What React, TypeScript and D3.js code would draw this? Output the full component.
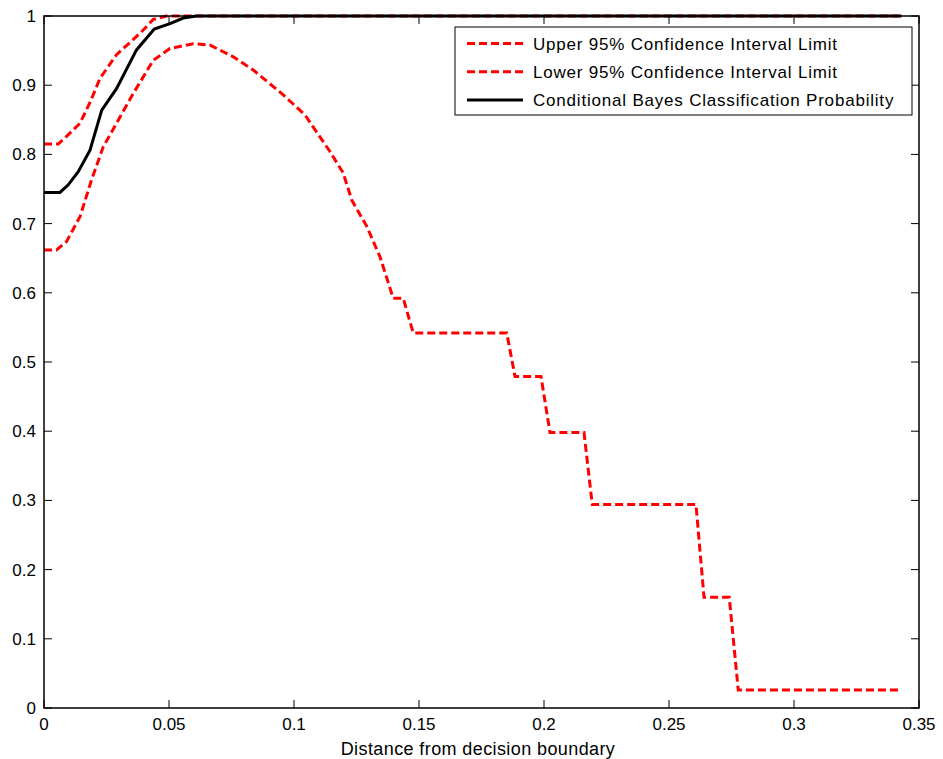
import React, { useRef, useEffect } from "react";
import * as d3 from "d3";

// values
const upper: [number, number][] = [
  [0, 0.815], [0.0057, 0.815], [0.009, 0.826], [0.0144, 0.845], [0.0184, 0.875],
  [0.0224, 0.91], [0.029, 0.944], [0.0384, 0.975], [0.0437, 0.995], [0.049, 1], [0.343, 1],
];

const bayes: [number, number][] = [
  [0, 0.745], [0.0064, 0.745], [0.0097, 0.756], [0.0137, 0.775], [0.0184, 0.806],
  [0.0231, 0.864], [0.029, 0.895], [0.037, 0.951], [0.0441, 0.981], [0.0504, 0.989],
  [0.0557, 0.997], [0.061, 1], [0.343, 1],
];

const lower: [number, number][] = [
  [0, 0.662], [0.005, 0.662], [0.009, 0.674], [0.0144, 0.71], [0.019, 0.763],
  [0.0237, 0.811], [0.029, 0.845], [0.0357, 0.888], [0.0437, 0.936], [0.0504, 0.953],
  [0.0597, 0.96], [0.0664, 0.958], [0.0757, 0.941], [0.0837, 0.922], [0.0957, 0.886],
  [0.1044, 0.857], [0.1144, 0.804], [0.1197, 0.773], [0.1231, 0.734], [0.1291, 0.696],
  [0.1344, 0.652], [0.1397, 0.592], [0.1437, 0.592], [0.1477, 0.542], [0.1851, 0.542],
  [0.1884, 0.479], [0.1988, 0.479], [0.2024, 0.398], [0.216, 0.398], [0.2193, 0.294],
  [0.2608, 0.294], [0.264, 0.16], [0.2741, 0.16], [0.2777, 0.026], [0.343, 0.026],
];

const xTicks = [0, 0.05, 0.1, 0.15, 0.2, 0.25, 0.3, 0.35];
const yTicks = [0, 0.1, 0.2, 0.3, 0.4, 0.5, 0.6, 0.7, 0.8, 0.9, 1];

const legendItems = [
  { label: "Upper 95% Confidence Interval Limit", color: "#ff0000", dash: "8,4" },
  { label: "Lower 95% Confidence Interval Limit", color: "#ff0000", dash: "8,4" },
  { label: "Conditional Bayes Classification Probability", color: "#000000", dash: null },
];

const App = () => {
  const svgRef = useRef<SVGSVGElement>(null);

  useEffect(() => {
    const svg = d3.select(svgRef.current);
    svg.selectAll("*").remove();

    const width = 943;
    const height = 759;
    const margin = { top: 16, right: 24, bottom: 51, left: 44 };
    const font = "Arial, 'Liberation Sans', sans-serif";

    const x = d3.scaleLinear().domain([0, 0.35]).range([margin.left, width - margin.right]);
    const y = d3.scaleLinear().domain([0, 1]).range([height - margin.bottom, margin.top]);

    svg.append("rect").attr("width", width).attr("height", height).attr("fill", "#fff");

    const line = d3
      .line<[number, number]>()
      .x((d) => x(d[0]))
      .y((d) => y(d[1]));

    const series = [
      { data: upper, color: "#ff0000", dash: "8,4" },
      { data: lower, color: "#ff0000", dash: "8,4" },
      { data: bayes, color: "#000000", dash: null },
    ];

    series.forEach((s) => {
      svg
        .append("path")
        .datum(s.data)
        .attr("d", line)
        .attr("fill", "none")
        .attr("stroke", s.color)
        .attr("stroke-width", 3)
        .attr("stroke-dasharray", s.dash);
    });

    // frame
    svg
      .append("rect")
      .attr("x", x(0))
      .attr("y", y(1))
      .attr("width", x(0.35) - x(0))
      .attr("height", y(0) - y(1))
      .attr("fill", "none")
      .attr("stroke", "#000")
      .attr("stroke-width", 1.5);

    const tickLen = 8;
    const tg = svg.append("g").attr("stroke", "#000").attr("stroke-width", 1);
    xTicks.forEach((t) => {
      tg.append("line").attr("x1", x(t)).attr("x2", x(t)).attr("y1", y(0)).attr("y2", y(0) - tickLen);
      tg.append("line").attr("x1", x(t)).attr("x2", x(t)).attr("y1", y(1)).attr("y2", y(1) + tickLen);
    });
    yTicks.forEach((t) => {
      tg.append("line").attr("x1", x(0)).attr("x2", x(0) + tickLen).attr("y1", y(t)).attr("y2", y(t));
      tg.append("line").attr("x1", x(0.35)).attr("x2", x(0.35) - tickLen).attr("y1", y(t)).attr("y2", y(t));
    });

    svg
      .append("g")
      .selectAll("text")
      .data(xTicks)
      .join("text")
      .attr("x", (d) => x(d))
      .attr("y", y(0) + 22)
      .attr("text-anchor", "middle")
      .attr("font-family", font)
      .attr("font-size", 17)
      .text((d) => d3.format("~g")(d));

    svg
      .append("g")
      .selectAll("text")
      .data(yTicks)
      .join("text")
      .attr("x", x(0) - 8)
      .attr("y", (d) => y(d) + 6)
      .attr("text-anchor", "end")
      .attr("font-family", font)
      .attr("font-size", 17)
      .text((d) => d3.format("~g")(d));

    svg
      .append("text")
      .attr("x", 478)
      .attr("y", 755)
      .attr("text-anchor", "middle")
      .attr("font-family", font)
      .attr("font-size", 18)
      .attr("letter-spacing", 0.4)
      .text("Distance from decision boundary");

    // legend
    const lg = svg.append("g");
    lg.append("rect")
      .attr("x", 455)
      .attr("y", 27)
      .attr("width", 457)
      .attr("height", 88)
      .attr("fill", "#fff")
      .attr("stroke", "#000")
      .attr("stroke-width", 1);

    legendItems.forEach((item, i) => {
      const cy = 43.5 + i * 28.3;
      lg.append("line")
        .attr("x1", 467)
        .attr("x2", 523)
        .attr("y1", cy)
        .attr("y2", cy)
        .attr("stroke", item.color)
        .attr("stroke-width", 3)
        .attr("stroke-dasharray", item.dash);
      lg.append("text")
        .attr("x", 533)
        .attr("y", cy + 6)
        .attr("font-family", font)
        .attr("font-size", 17)
        .attr("letter-spacing", 0.8)
        .text(item.label);
    });
  }, []);

  return (
    <svg
      ref={svgRef}
      width={943}
      height={759}
      style={{ position: "absolute", left: 0, top: 0 }}
    ></svg>
  );
};

export default App;
